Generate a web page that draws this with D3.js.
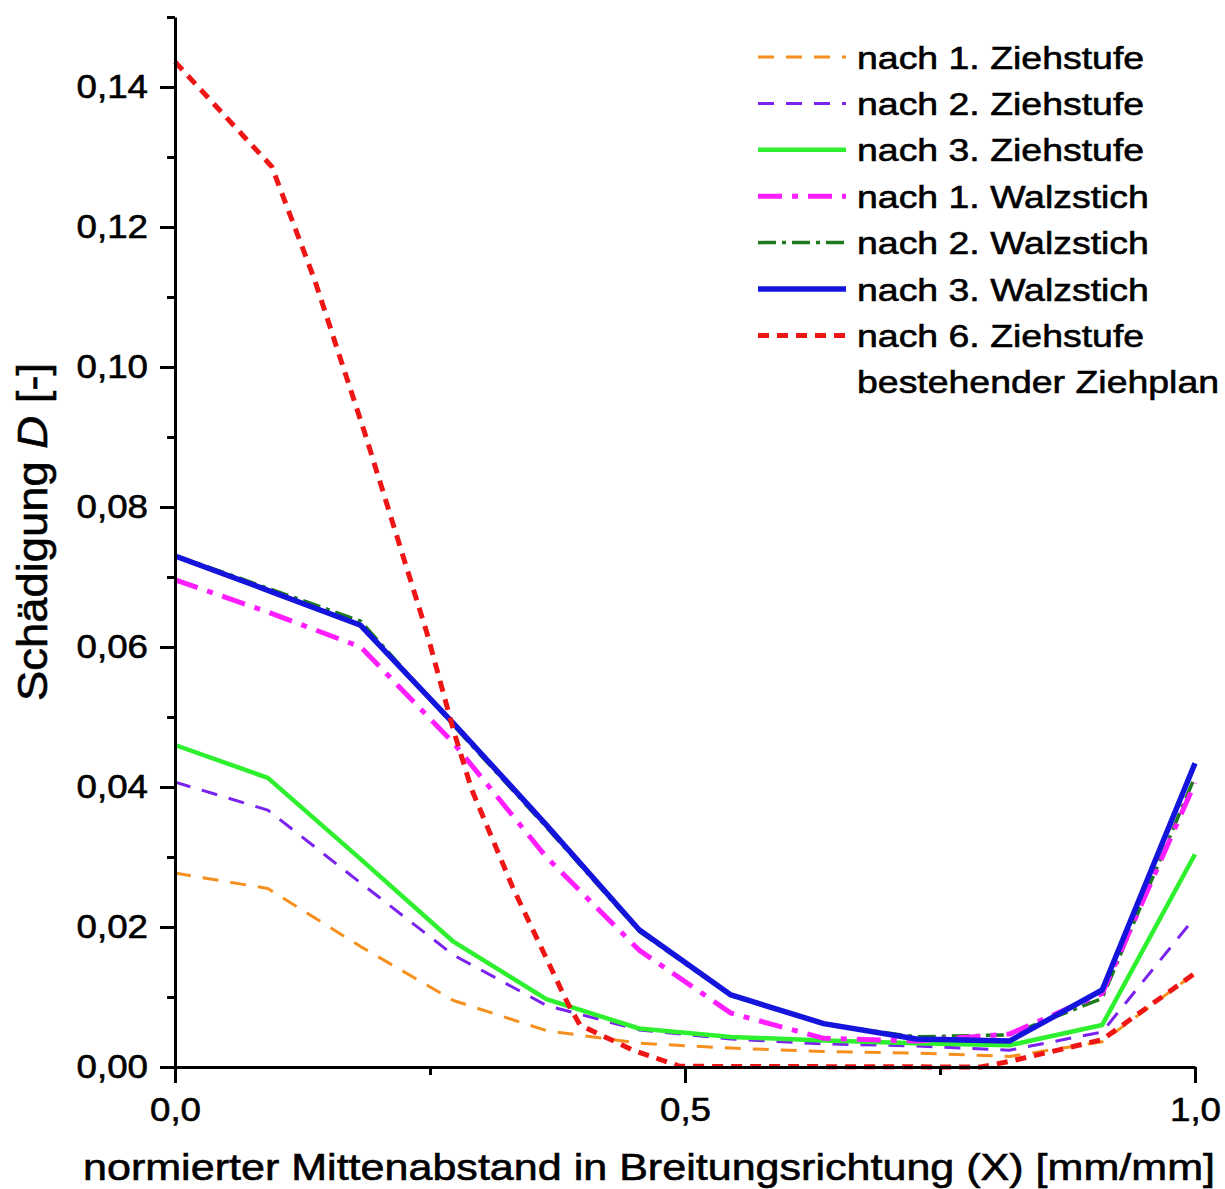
<!DOCTYPE html>
<html>
<head>
<meta charset="utf-8">
<script src="https://cdn.jsdelivr.net/npm/d3@7"></script>
<style>
    body { margin: 0; background: #fff; }
    svg { display: block; font-family: 'Liberation Sans', Arial, sans-serif; }
    svg text { stroke: #000; stroke-width: 0.6px; fill: #000; }
</style>
</head>
<body>
<svg id="chart"></svg>
<script>
// x positions (normierter Mittenabstand) shared by most series
const xGrid = [0, 0.091, 0.182, 0.273, 0.364, 0.455, 0.545, 0.636, 0.727, 0.818, 0.909, 1.0];

// Schädigung D per series
const zieh1 = [0.0277, 0.0255, 0.0172, 0.0095, 0.0052, 0.0034, 0.0027, 0.0022, 0.0020, 0.0015, 0.0036, 0.0134];
const zieh2 = [0.0407, 0.0367, 0.0263, 0.0160, 0.0088, 0.0053, 0.0040, 0.0033, 0.0030, 0.0024, 0.0050, 0.0214];
const zieh3 = [0.0460, 0.0413, 0.0297, 0.0179, 0.0097, 0.0055, 0.0043, 0.0038, 0.0034, 0.0031, 0.0060, 0.0304];
const walz1 = [0.0696, 0.0650, 0.0600, 0.0463, 0.0300, 0.0167, 0.0077, 0.0041, 0.0037, 0.0047, 0.0105, 0.0406];
const walz2 = [0.0731, 0.0684, 0.0637, 0.0488, 0.0343, 0.0194, 0.0102, 0.0061, 0.0043, 0.0046, 0.0098, 0.0415];
const walz3 = [0.0730, 0.0681, 0.0631, 0.0491, 0.0346, 0.0196, 0.0103, 0.0062, 0.0040, 0.0037, 0.0110, 0.0434];

// the 6. Ziehstufe curve has its own sampling
const zieh6X = [0, 0.095, 0.137, 0.186, 0.247, 0.273, 0.291, 0.331, 0.385, 0.397, 0.449, 0.495, 0.79, 0.818, 0.909, 1.0];
const zieh6 = [0.1436, 0.1286, 0.1124, 0.0906, 0.0620, 0.0481, 0.0396, 0.0257, 0.0091, 0.0060, 0.0024, 0.0001, 0.0000, 0.0008, 0.0039, 0.0134];

const legendNames = [
    'nach 1. Ziehstufe',
    'nach 2. Ziehstufe',
    'nach 3. Ziehstufe',
    'nach 1. Walzstich',
    'nach 2. Walzstich',
    'nach 3. Walzstich',
    'nach 6. Ziehstufe',
];
const legendExtra = 'bestehender Ziehplan';

const yTicks = [0, 0.02, 0.04, 0.06, 0.08, 0.10, 0.12, 0.14];
const yTickLabels = ['0,00', '0,02', '0,04', '0,06', '0,08', '0,10', '0,12', '0,14'];
const yMinor = [0.01, 0.03, 0.05, 0.07, 0.09, 0.11, 0.13, 0.15];
const xTicks = [0, 0.5, 1];
const xTickLabels = ['0,0', '0,5', '1,0'];
const xMinor = [0.25, 0.75];

// series table: data + drawing style
const series = [
    { name: legendNames[0], xs: xGrid, ys: zieh1, color: '#f5901e', width: 3, dash: '16,12', order: 0 },
    { name: legendNames[1], xs: xGrid, ys: zieh2, color: '#7a22ee', width: 3, dash: '16,12', order: 1 },
    { name: legendNames[2], xs: xGrid, ys: zieh3, color: '#2ef02e', width: 4.5, dash: null, order: 2 },
    { name: legendNames[3], xs: xGrid, ys: walz1, color: '#ff1eff', width: 5, dash: '24,10,6,10', order: 4 },
    { name: legendNames[4], xs: xGrid, ys: walz2, color: '#1e7a1e', width: 3.5, dash: '18,6,4,6', order: 3 },
    { name: legendNames[5], xs: xGrid, ys: walz3, color: '#1414dc', width: 5.5, dash: null, order: 5 },
    { name: legendNames[6], xs: zieh6X, ys: zieh6, color: '#ee1515', width: 5, dash: '11,8', order: 6 },
];

const W = 1225, H = 1189;
const svg = d3.select('#chart').attr('width', W).attr('height', H);

const x = d3.scaleLinear().domain([0, 1]).range([175, 1195]);
const y = d3.scaleLinear().domain([0, 0.15]).range([1067, 17]);

// Plot lines
const line = d3.line()
    .x(d => x(d[0]))
    .y(d => y(d[1]));

const lineLayer = svg.append('g');
series.slice().sort((a, b) => a.order - b.order).forEach(s => {
    lineLayer.append('path')
        .datum(s.xs.map((v, i) => [v, s.ys[i]]))
        .attr('d', line)
        .attr('fill', 'none')
        .attr('stroke', s.color)
        .attr('stroke-width', s.width)
        .attr('stroke-linejoin', 'round')
        .attr('stroke-dasharray', s.dash);
});

// Axes
function styleAxis(g) {
    g.selectAll('path, line').attr('stroke', '#000').attr('stroke-width', 3);
    g.selectAll('text').attr('font-size', 34).attr('font-family', "'Liberation Sans', Arial, sans-serif");
}

svg.append('g')
    .attr('transform', 'translate(175,0)')
    .call(d3.axisLeft(y).tickValues(yMinor).tickSize(8).tickSizeOuter(0).tickFormat(''))
    .call(g => g.select('.domain').remove())
    .call(styleAxis);

svg.append('g')
    .attr('transform', 'translate(0,1067)')
    .call(d3.axisBottom(x).tickValues(xMinor).tickSize(8).tickSizeOuter(0).tickFormat(''))
    .call(g => g.select('.domain').remove())
    .call(styleAxis);

svg.append('g')
    .attr('transform', 'translate(175,0)')
    .call(d3.axisLeft(y).tickValues(yTicks).tickSize(15).tickSizeOuter(0).tickPadding(10)
        .tickFormat((d, i) => yTickLabels[i]))
    .call(styleAxis)
    .call(g => g.selectAll('text').attr('transform', 'scale(1.08,1)'));

svg.append('g')
    .attr('transform', 'translate(0,1067)')
    .call(d3.axisBottom(x).tickValues(xTicks).tickSize(16).tickSizeOuter(0).tickPadding(14)
        .tickFormat((d, i) => xTickLabels[i]))
    .call(styleAxis)
    .call(g => g.selectAll('.tick text').attr('transform', 'scale(1.08,1)'));

// Axis titles
svg.append('text')
    .attr('x', 83)
    .attr('y', 1180)
    .attr('font-size', 37)
    .attr('textLength', 1132)
    .attr('lengthAdjust', 'spacingAndGlyphs')
    .text('normierter Mittenabstand in Breitungsrichtung (X) [mm/mm]');

const yTitle = svg.append('text')
    .attr('transform', 'translate(47,532) rotate(-90)')
    .attr('text-anchor', 'middle')
    .attr('font-size', 42)
    .attr('textLength', 338)
    .attr('lengthAdjust', 'spacingAndGlyphs');
yTitle.append('tspan').text('Schädigung ');
yTitle.append('tspan').attr('font-style', 'italic').text('D');
yTitle.append('tspan').text(' [-]');

// Legend
const legX0 = 758, legX1 = 846, legText = 857, legY0 = 57, legRow = 46.4;
const legend = svg.append('g');
series.forEach((s, i) => {
    const cy = legY0 + i * legRow;
    legend.append('line')
        .attr('x1', legX0).attr('x2', legX1)
        .attr('y1', cy).attr('y2', cy)
        .attr('stroke', s.color)
        .attr('stroke-width', s.width)
        .attr('stroke-dasharray', s.dash);
    legend.append('text')
        .attr('transform', `translate(${legText},${cy + 11.5}) scale(1.17,1)`)
        .attr('font-size', 32)
        .text(s.name);
});
legend.append('text')
    .attr('transform', `translate(${legText},${legY0 + 7 * legRow + 11.5}) scale(1.17,1)`)
    .attr('font-size', 32)
    .text(legendExtra);
</script>
</body>
</html>
